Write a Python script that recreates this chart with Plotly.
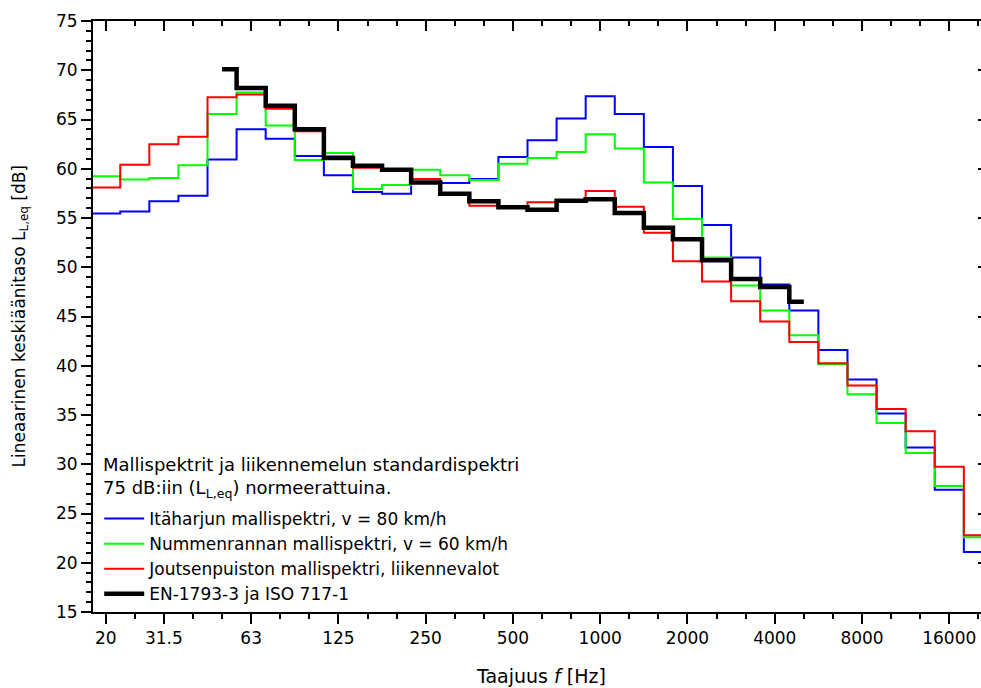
import plotly.graph_objects as go

bands = ['20', '25', '31.5', '40', '50', '63', '80', '100', '125', '160', '200', '250',
         '315', '400', '500', '630', '800', '1000', '1250', '1600', '2000', '2500', '3150',
         '4000', '5000', '6300', '8000', '10000', '12500', '16000', '20000']

itaharju = [55.45, 55.65, 56.7, 57.25, 60.95, 64.0, 63.05, 61.3, 59.35, 57.65, 57.45, 58.6,
            58.55, 58.95, 61.2, 62.9, 65.1, 67.35, 65.55, 62.2, 58.25, 54.3, 51.0, 48.25,
            45.6, 41.6, 38.6, 35.15, 31.7, 27.4, 21.1]
nummenranta = [59.25, 58.9, 59.05, 60.35, 65.55, 67.75, 64.4, 60.9, 61.6, 57.95, 58.35, 59.9,
               59.35, 58.85, 60.5, 61.1, 61.7, 63.5, 62.05, 58.6, 54.9, 51.0, 48.15, 45.6,
               43.1, 40.15, 37.1, 34.2, 31.15, 27.8, 22.6]
joutsenpuisto = [58.1, 60.4, 62.5, 63.25, 67.25, 67.55, 66.1, 63.8, 61.25, 60.1, 59.9, 58.95,
                 57.5, 56.25, 56.1, 56.6, 56.75, 57.75, 56.15, 53.5, 50.6, 48.55, 46.55, 44.5,
                 42.4, 40.25, 38.0, 35.6, 33.35, 29.75, 22.8]
standard_bands = ['50', '63', '80', '100', '125', '160', '200', '250', '315', '400', '500',
                  '630', '800', '1000', '1250', '1600', '2000', '2500', '3150', '4000', '5000']
standard = [70.1, 68.2, 66.4, 64.0, 61.1, 60.3, 59.9, 58.6, 57.45, 56.7, 56.1, 55.85, 56.75,
            56.9, 55.5, 54.0, 52.85, 50.7, 48.8, 48.0, 46.5]

major_labels = ['20', '31.5', '63', '125', '250', '500', '1000', '2000', '4000', '8000', '16000']

FONT = 'DejaVu Sans'
idx = {b: i for i, b in enumerate(bands)}


def band_steps(vals):
    # each third-octave band drawn as a horizontal step over its full band width
    xs = [i - 0.5 for i in range(len(vals))] + [len(vals) - 0.5]
    ys = list(vals) + [vals[-1]]
    return xs, ys


fig = go.Figure()
series = [
    ('Itäharjun mallispektri, v = 80 km/h', itaharju, '#0000FF'),
    ('Nummenrannan mallispektri, v = 60 km/h', nummenranta, '#00FF00'),
    ('Joutsenpuiston mallispektri, liikennevalot', joutsenpuisto, '#FF0000'),
]
for name, vals, col in series:
    xs, ys = band_steps(vals)
    fig.add_trace(go.Scatter(x=xs, y=ys, mode='lines', name=name, line_shape='hv',
                             line=dict(color=col, width=2)))

fig.add_trace(go.Scatter(x=[idx[b] for b in standard_bands], y=standard, mode='lines',
                         name='EN-1793-3 ja ISO 717-1', line_shape='hvh',
                         line=dict(color='black', width=4.5)))
# helper trace for the mirrored top/right axes
fig.add_trace(go.Scatter(x=[idx[b] for b in standard_bands], y=standard, mode='lines',
                         xaxis='x2', yaxis='y2', showlegend=False, hoverinfo='skip',
                         line=dict(color='rgba(0,0,0,0)', width=0)))

xr = [-0.4366, 30.09]
tickvals = [idx[b] for b in major_labels]

fig.update_layout(
    width=981, height=688,
    margin=dict(l=93, r=0, t=21, b=76),
    paper_bgcolor='white', plot_bgcolor='white',
    font=dict(family=FONT, size=17, color='black'),
    showlegend=True,
    legend=dict(
        x=0.007, y=0.0, xanchor='left', yanchor='bottom',
        bgcolor='rgba(0,0,0,0)', borderwidth=0,
        font=dict(family=FONT, size=17, color='black'),
        itemwidth=40, tracegroupgap=0,
    ),
    xaxis=dict(
        range=xr, showgrid=False, zeroline=False,
        showline=True, linecolor='black', linewidth=2,
        tickmode='array', tickvals=tickvals, ticktext=major_labels,
        ticks='outside', ticklen=10, tickwidth=2, tickcolor='black',
        minor=dict(tickmode='linear', tick0=0, dtick=1, ticks='outside', ticklen=5,
                   tickwidth=2, tickcolor='black', showgrid=False),
        tickfont=dict(family=FONT, size=17),
    ),
    yaxis=dict(
        range=[15, 75], showgrid=False, zeroline=False,
        showline=True, linecolor='black', linewidth=2,
        tickmode='linear', tick0=15, dtick=5,
        ticks='outside', ticklen=10, tickwidth=2, tickcolor='black',
        minor=dict(tickmode='linear', tick0=15, dtick=1, ticks='outside', ticklen=5,
                   tickwidth=1.5, tickcolor='black', showgrid=False),
        tickfont=dict(family=FONT, size=17),
    ),
    xaxis2=dict(
        range=xr, overlaying='x', side='top', showgrid=False, zeroline=False,
        showline=True, linecolor='black', linewidth=2,
        tickmode='array', tickvals=tickvals, showticklabels=False,
        ticks='inside', ticklen=10, tickwidth=2, tickcolor='black',
        minor=dict(tickmode='linear', tick0=0, dtick=1, ticks='inside', ticklen=5,
                   tickwidth=2, tickcolor='black', showgrid=False),
    ),
    yaxis2=dict(
        range=[15, 75], overlaying='y', side='right', showgrid=False, zeroline=False,
        showline=False, tickmode='linear', tick0=15, dtick=5, showticklabels=False,
        ticks='inside', ticklen=3, tickwidth=2, tickcolor='black',
    ),
    annotations=[
        dict(text='Mallispektrit ja liikennemelun standardispektri<br>'
                  '75 dB:iin (L<sub>L,eq</sub>) normeerattuina.',
             xref='paper', yref='paper', x=(101 - 93) / 888, y=(612 - 477) / 591,
             xanchor='left', yanchor='middle', align='left', showarrow=False,
             font=dict(family=FONT, size=18)),
        dict(text='Taajuus <i>f</i> [Hz]', xref='paper', yref='paper',
             x=(541 - 93) / 888, y=-0.108, xanchor='center', yanchor='middle',
             showarrow=False, font=dict(family=FONT, size=19)),
        dict(text='Lineaarinen keskiäänitaso L<sub>L,eq</sub> [dB]', xref='paper', yref='paper',
             x=(20 - 93) / 888, y=0.5, xanchor='center', yanchor='middle', textangle=-90,
             showarrow=False, font=dict(family=FONT, size=17)),
    ],
)

fig.write_html('out.html')
